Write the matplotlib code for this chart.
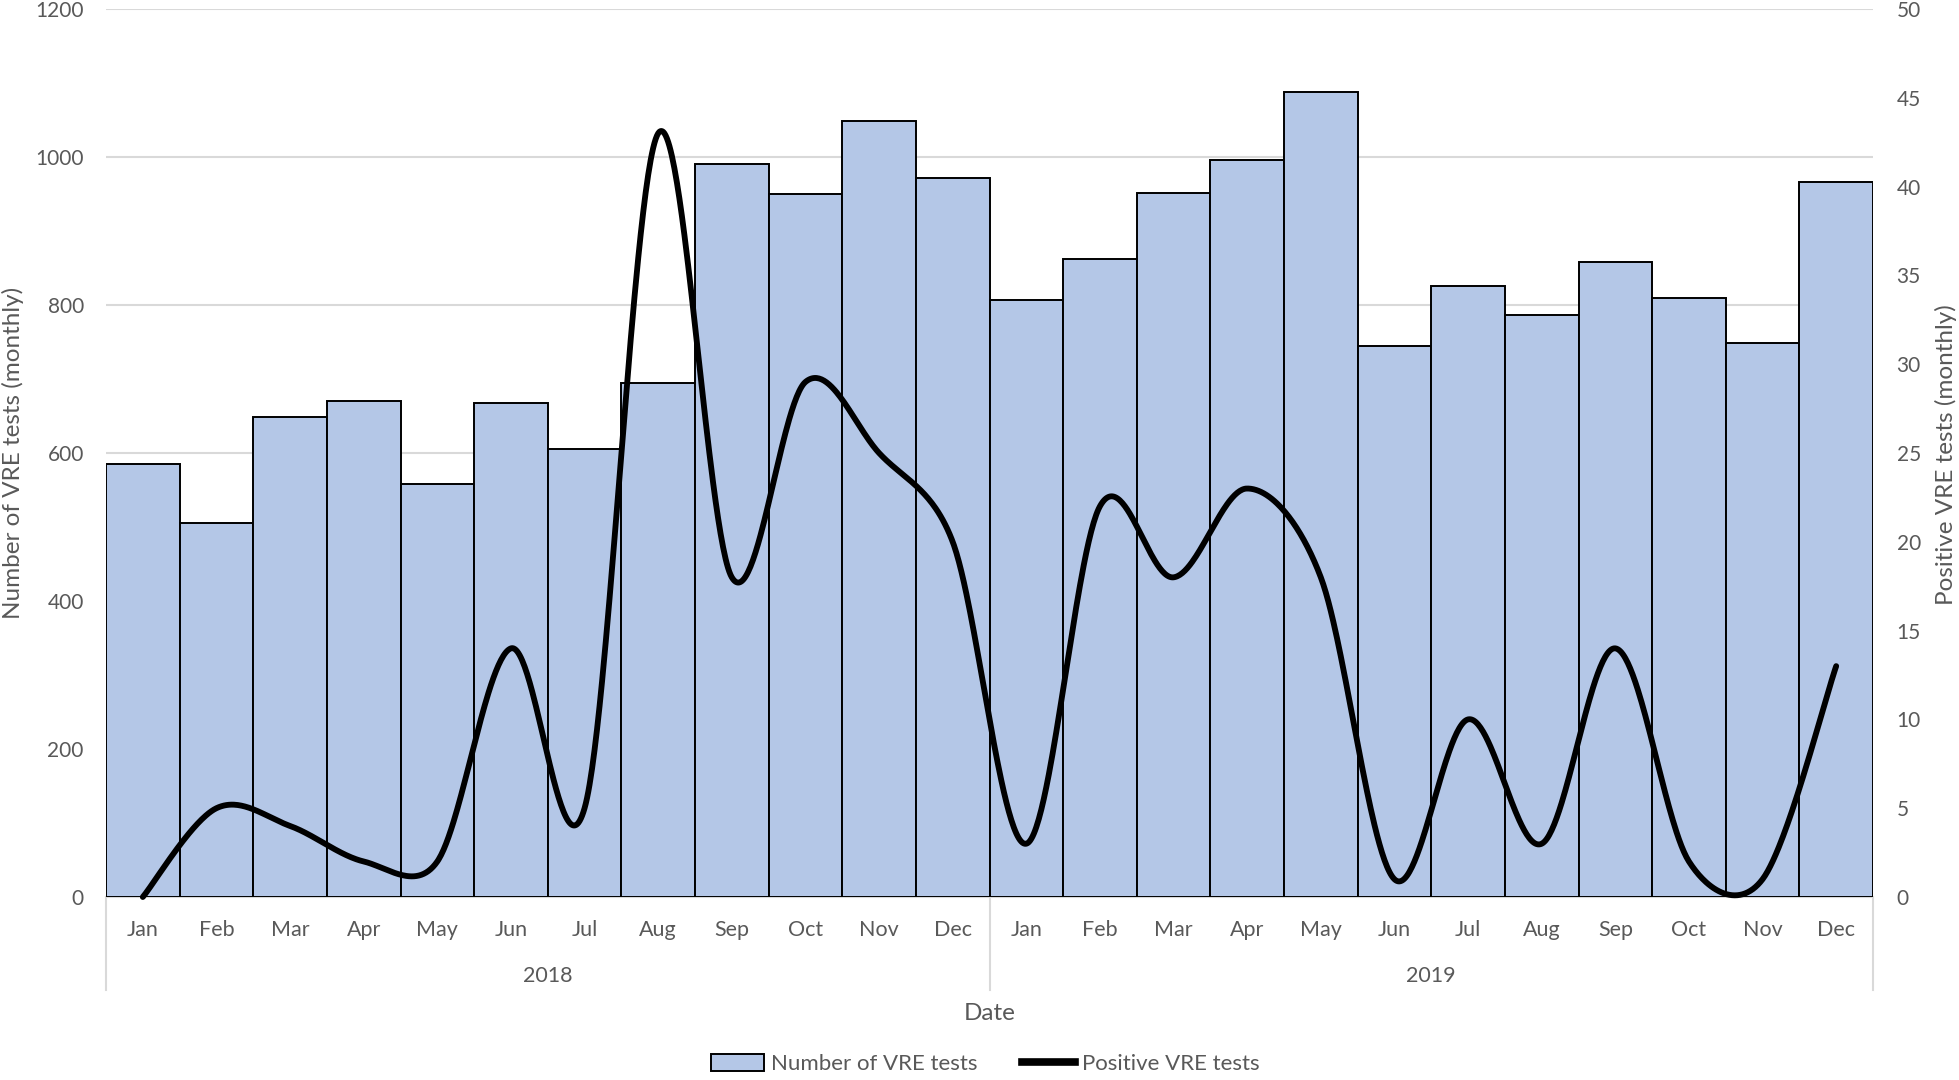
import numpy as np
import matplotlib
matplotlib.use("Agg")
import matplotlib.pyplot as plt
from matplotlib.patches import Patch
from matplotlib.lines import Line2D
import matplotlib.transforms as mtrans

# ---- data ----
month_labels = ["Jan", "Feb", "Mar", "Apr", "May", "Jun",
                "Jul", "Aug", "Sep", "Oct", "Nov", "Dec"] * 2
year_labels = ["2018", "2019"]
vre_tests = [585, 505, 648, 670, 558, 668, 606, 695, 990, 950, 1049, 971,
             807, 862, 952, 996, 1088, 744, 825, 786, 858, 809, 748, 966]
positive_tests = [0, 5, 4, 2, 2, 14, 5, 43, 18, 29, 25, 20,
                  3, 22, 18, 23, 18, 1, 10, 3, 14, 2, 1, 13]
left_ticks = [0, 200, 400, 600, 800, 1000, 1200]
right_ticks = [0, 5, 10, 15, 20, 25, 30, 35, 40, 45, 50]

TXT = "#595959"
GRID = "#d9d9d9"
BAR = "#b4c7e7"
FONT = ["Lato", "DejaVu Sans"]
FS = 15

plt.rcParams["font.family"] = FONT

W, H = 1959, 1080
fig = plt.figure(figsize=(W / 100, H / 100), dpi=100)
L, R, T, B = 106, 1873, 9, 897
ax = fig.add_axes([L / W, 1 - B / H, (R - L) / W, (B - T) / H])
ax2 = ax.twinx()

x = np.arange(len(vre_tests))
ax.bar(x, vre_tests, width=1.0, color=BAR, edgecolor="black", linewidth=1.4, zorder=2)
ax.set_xlim(-0.5, len(vre_tests) - 0.5)
ax.set_ylim(0, 1200)
ax.set_yticks(left_ticks)
ax.yaxis.grid(True, color=GRID, linewidth=1.5, zorder=0)
ax.set_axisbelow(True)
for s in ["top", "left", "right"]:
    ax.spines[s].set_visible(False)
ax.spines["bottom"].set_color(GRID)
ax.spines["bottom"].set_linewidth(1.5)
ax.spines["bottom"].set_zorder(1)
ax.tick_params(axis="y", length=0, pad=16, labelsize=FS, labelcolor=TXT)
ax.set_xticks([])

ax2.set_ylim(0, 50)
ax2.set_yticks(right_ticks)
for s in ["top", "left", "right", "bottom"]:
    ax2.spines[s].set_visible(False)
ax2.tick_params(axis="y", length=0, pad=17, labelsize=FS, labelcolor=TXT)

# ---- smoothed line (Excel-like Bezier smoothing, computed in display space) ----
fig.canvas.draw()
pts = ax2.transData.transform(np.column_stack([x, positive_tests]).astype(float))
P = np.vstack([pts[0], pts, pts[-1]])
curve = []
tt = np.linspace(0, 1, 60)[:, None]
for i in range(1, len(P) - 2):
    p0, p1, p2, p3 = P[i - 1], P[i], P[i + 1], P[i + 2]
    d12 = np.linalg.norm(p2 - p1)
    v1 = (p2 - p0) / 6.0
    v2 = (p3 - p1) / 6.0
    if np.linalg.norm(v1) > d12 / 2:
        v1 = v1 / np.linalg.norm(v1) * d12 / 2
    if np.linalg.norm(v2) > d12 / 2:
        v2 = v2 / np.linalg.norm(v2) * d12 / 2
    c1 = p1 + v1
    c2 = p2 - v2
    seg = ((1 - tt) ** 3) * p1 + 3 * ((1 - tt) ** 2) * tt * c1 + 3 * (1 - tt) * tt ** 2 * c2 + tt ** 3 * p2
    curve.append(seg if i == 1 else seg[1:])
curve = np.vstack(curve)
data_curve = ax2.transData.inverted().transform(curve)
ax2.plot(data_curve[:, 0], data_curve[:, 1], color="black", linewidth=4.2,
         solid_capstyle="round", solid_joinstyle="round", zorder=3, clip_on=False)

# ---- category axis (months / years) ----
blend = mtrans.blended_transform_factory(ax.transData, ax.transAxes)
axh = B - T
for i, m in enumerate(month_labels):
    ax.text(i, -(929.5 - B) / axh, m, transform=blend, ha="center", va="center",
            fontsize=FS + 0.5, color=TXT)
for j, yl in enumerate(year_labels):
    ax.text(j * 12 + 5.5, -(976.5 - B) / axh, yl, transform=blend, ha="center", va="center",
            fontsize=FS + 0.5, color=TXT)
for xs in [-0.5, 11.5, 23.5]:
    ax.plot([xs, xs], [0, -(990 - B) / axh], transform=blend, color=GRID,
            linewidth=1.5, clip_on=False, zorder=1)

ax.text(0.5, -(1013 - B) / axh, "Date", transform=ax.transAxes, ha="center",
        va="center", fontsize=FS + 2.5, color=TXT)

fig.text(13 / W, 1 - 453 / H, "Number of VRE tests (monthly)", rotation=90,
         ha="center", va="center", fontsize=FS + 2.5, color=TXT)
fig.text(1946 / W, 1 - 455 / H, "Positive VRE tests (monthly)", rotation=90,
         ha="center", va="center", fontsize=FS + 2.5, color=TXT)

handles = [Patch(facecolor=BAR, edgecolor="black", linewidth=1.4),
           Line2D([0], [0], color="black", linewidth=5.5)]
fig.legend(handles, ["Number of VRE tests", "Positive VRE tests"], loc="center",
           bbox_to_anchor=(985 / W, 1 - 1064 / H), ncol=2, frameon=False,
           fontsize=FS + 1, labelcolor=TXT, handlelength=2.4, handleheight=0.8,
           handletextpad=0.3, columnspacing=2.0, borderpad=0.2)

fig.savefig("out.png", dpi=100)
